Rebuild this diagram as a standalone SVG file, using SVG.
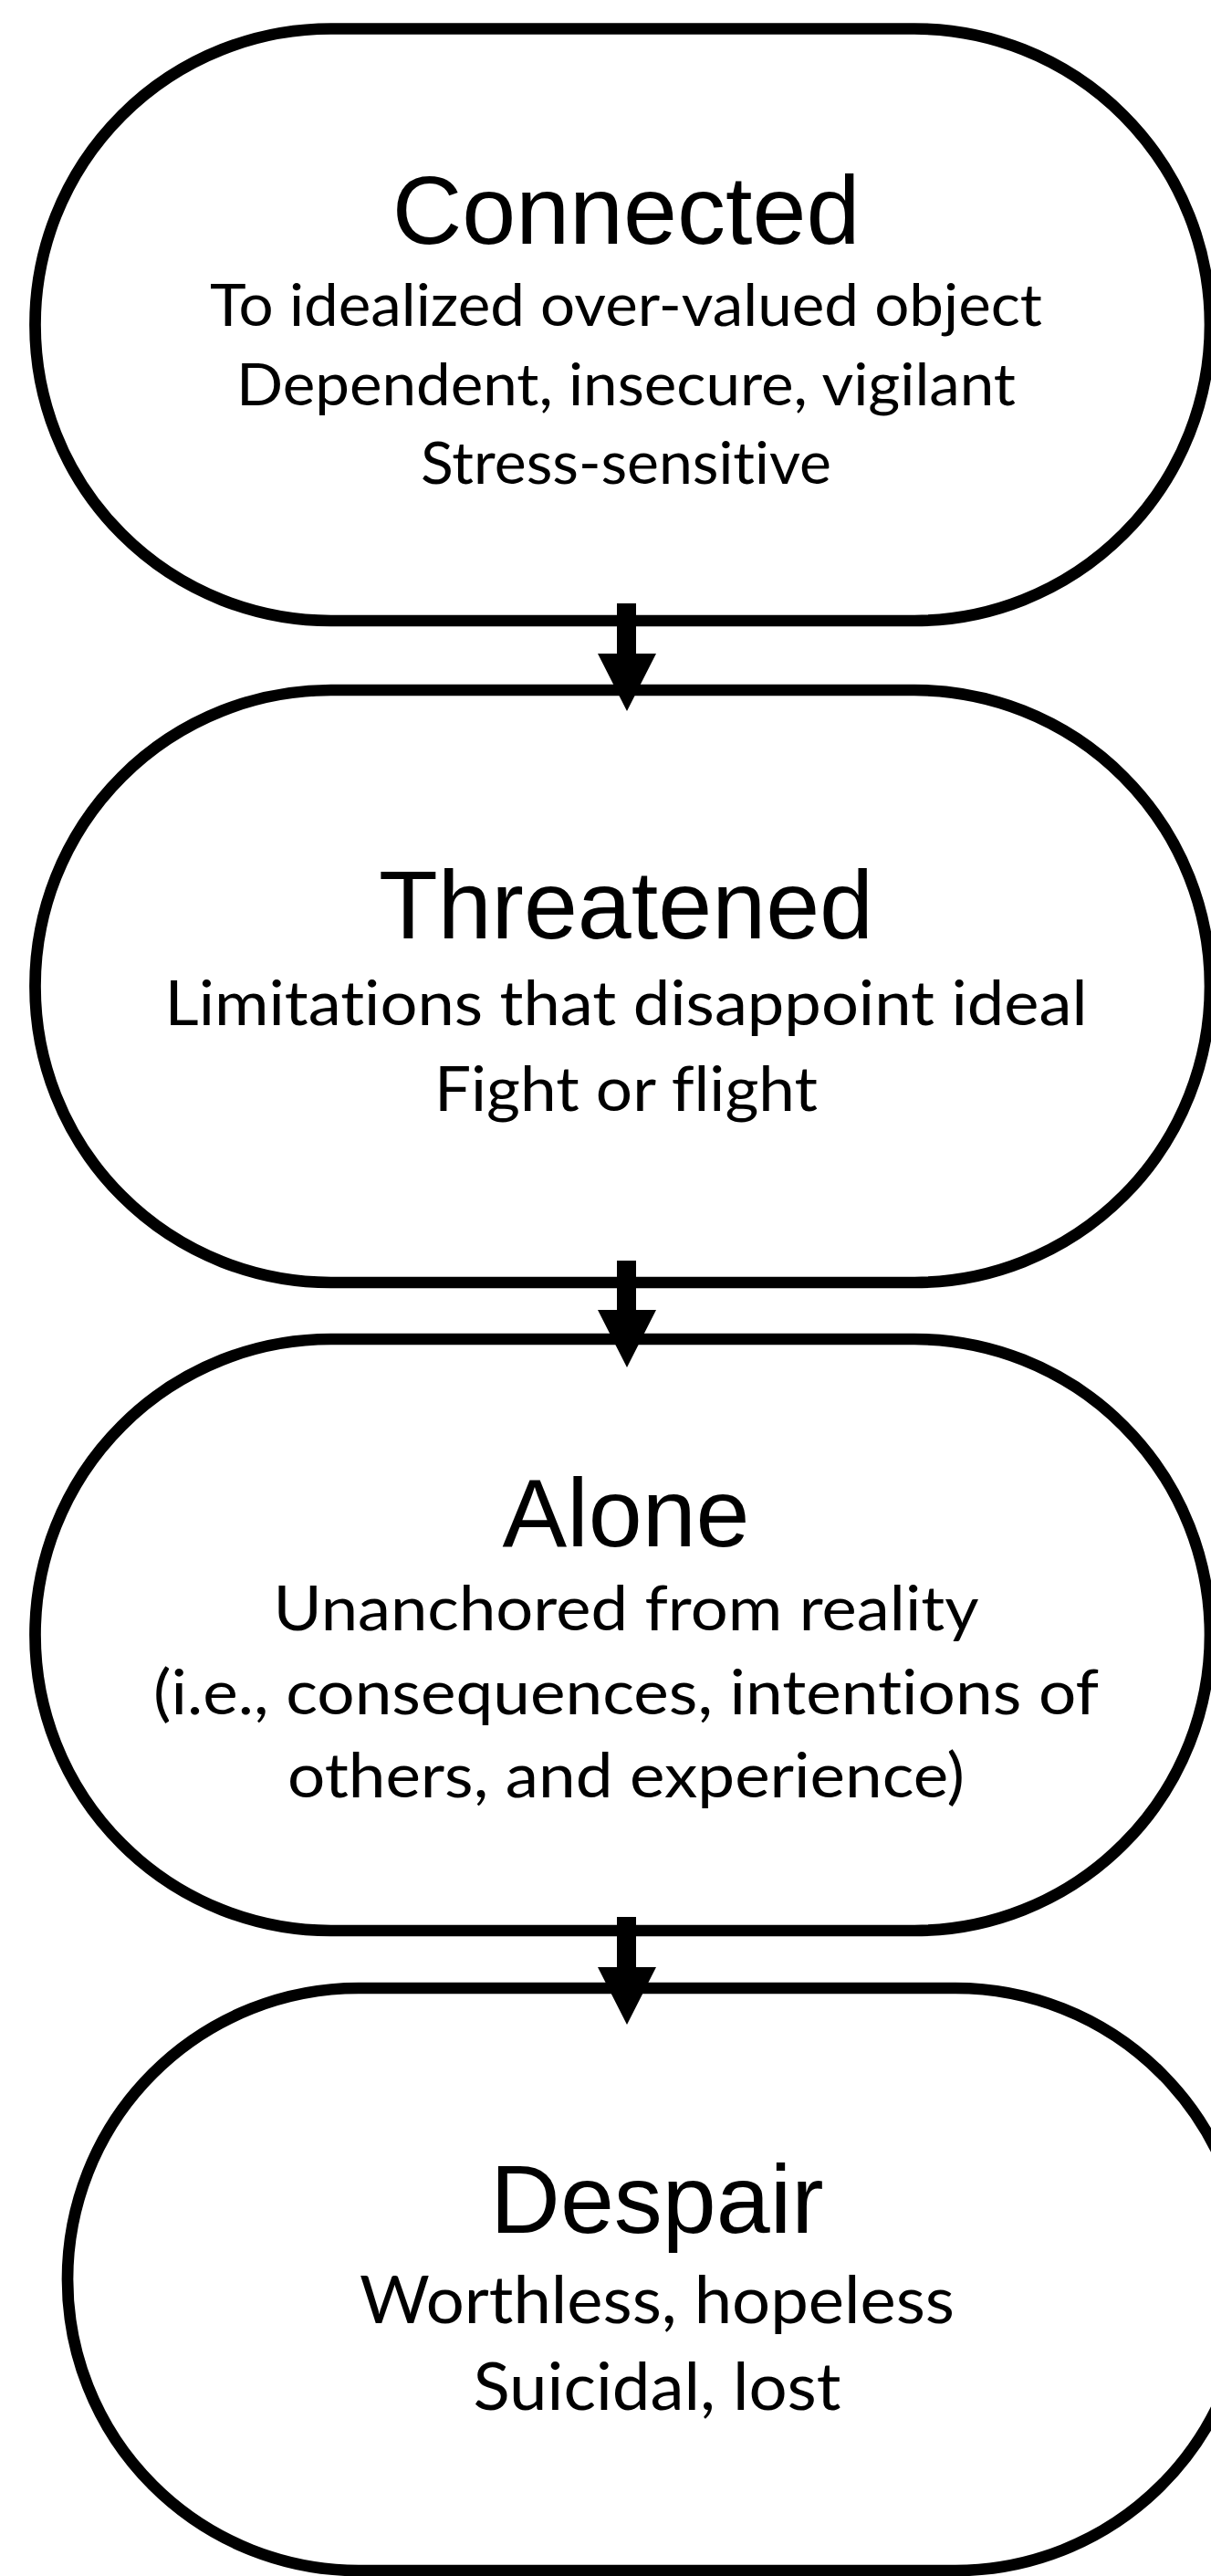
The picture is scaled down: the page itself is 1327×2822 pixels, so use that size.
<svg xmlns="http://www.w3.org/2000/svg" width="1327" height="2822" viewBox="0 0 1327 2822">
  <style>
    .stage { fill: #ffffff; stroke: #000000; stroke-width: 12.7; }
    .title { font-family: "Liberation Sans", Arial, sans-serif; font-size: 106px; fill: #000000; text-anchor: middle; }
    .body { font-family: Lato, "Open Sans", sans-serif; fill: #000000; text-anchor: middle; font-variant-ligatures: none; font-feature-settings: "liga" 0, "clig" 0; }
    .s72 { font-size: 64px; }
    .s77 { font-size: 68.5px; }
    .s80 { font-size: 71px; }
    .arrow { fill: #000000; stroke: none; }
  </style>
  <rect x="0" y="0" width="1327" height="2822" fill="#ffffff"/>

  <g id="node-connected">
    <rect class="stage" x="38.5" y="31.5" width="1287.5" height="648.5" rx="324" ry="324"/>
    <text class="title" x="686" y="266.5">Connected</text>
    <text class="body s72" x="686" y="357" textLength="912" lengthAdjust="spacingAndGlyphs">To idealized over-valued object</text>
    <text class="body s72" x="686" y="443.5" textLength="854" lengthAdjust="spacingAndGlyphs">Dependent, insecure, vigilant</text>
    <text class="body s72" x="686" y="530" textLength="450" lengthAdjust="spacingAndGlyphs">Stress-sensitive</text>
  </g>

  <g id="node-threatened">
    <rect class="stage" x="38.5" y="756" width="1287.5" height="649" rx="324" ry="324"/>
    <text class="title" x="686" y="1028">Threatened</text>
    <text class="body s77" x="686" y="1123" textLength="1011" lengthAdjust="spacingAndGlyphs">Limitations that disappoint ideal</text>
    <text class="body s77" x="686" y="1217" textLength="420" lengthAdjust="spacingAndGlyphs">Fight or flight</text>
  </g>

  <g id="node-alone">
    <rect class="stage" x="38.5" y="1467" width="1287.5" height="648" rx="324" ry="324"/>
    <text class="title" x="686" y="1694">Alone</text>
    <text class="body s77" x="686" y="1786" textLength="773" lengthAdjust="spacingAndGlyphs">Unanchored from reality</text>
    <text class="body s77" x="686" y="1878" textLength="1036" lengthAdjust="spacingAndGlyphs">(i.e., consequences, intentions of</text>
    <text class="body s77" x="686" y="1969" textLength="742" lengthAdjust="spacingAndGlyphs">others, and experience)</text>
  </g>

  <g id="node-despair">
    <rect class="stage" x="74" y="2178" width="1292" height="638" rx="319" ry="319"/>
    <text class="title" x="720" y="2446">Despair</text>
    <text class="body s80" x="720" y="2545" textLength="652" lengthAdjust="spacingAndGlyphs">Worthless, hopeless</text>
    <text class="body s80" x="720" y="2640" textLength="403" lengthAdjust="spacingAndGlyphs">Suicidal, lost</text>
  </g>

  <!-- block arrows between consecutive stages -->
  <g id="connectors">
    <path class="arrow" d="M676 661 H697 V716 H719 L687 779 L655 716 H676 Z"/>
    <path class="arrow" d="M676 1381 H697 V1435 H719 L687 1498 L655 1435 H676 Z"/>
    <path class="arrow" d="M676 2100 H697 V2155 H719 L687 2218 L655 2155 H676 Z"/>
  </g>
</svg>
